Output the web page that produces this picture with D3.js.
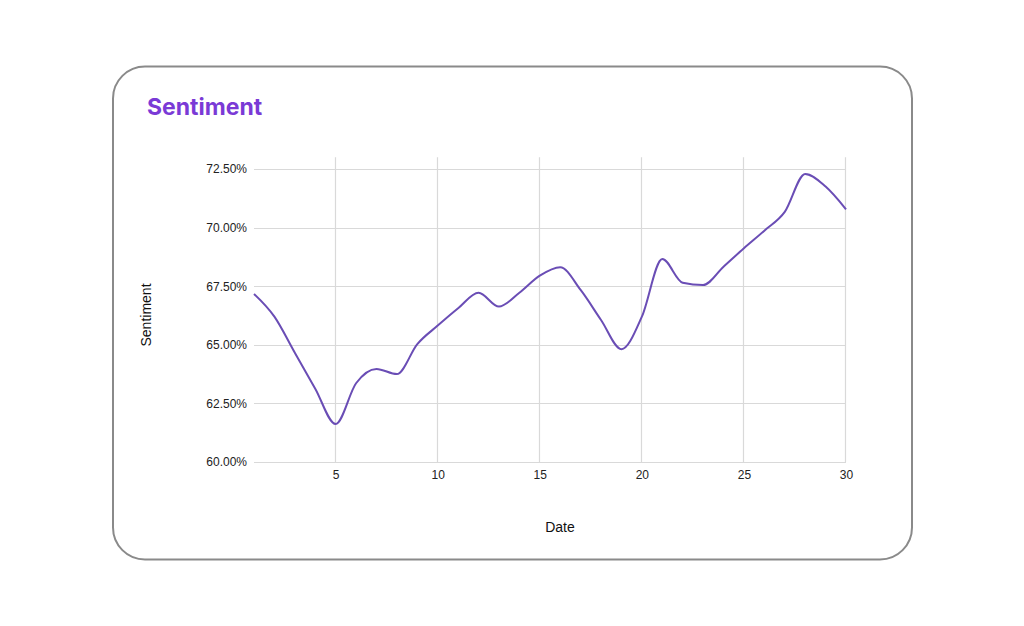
<!DOCTYPE html>
<html>
<head>
<meta charset="utf-8">
<script src="https://cdn.jsdelivr.net/npm/d3@7"></script>
<style>
  html, body { margin: 0; padding: 0; background: #fff; }
  svg { display: block; font-family: "Liberation Sans", Arial, sans-serif; }
</style>
</head>
<body>
<svg id="chart" width="1024" height="626"></svg>
<script>
const days = [1,2,3,4,5,6,7,8,9,10,11,12,13,14,15,16,17,18,19,20,21,22,23,24,25,26,27,28,29,30];
const sentiment = [67.17,66.2,64.66,63.13,61.62,63.36,63.97,63.75,65.03,65.82,66.56,67.22,66.63,67.22,67.95,68.31,67.34,66.06,64.81,66.2,68.66,67.65,67.55,68.33,69.12,69.87,70.67,72.29,71.75,70.78];
const yTicks = [60, 62.5, 65, 67.5, 70, 72.5];
const xTicks = [5, 10, 15, 20, 25, 30];
const chartTitle = "Sentiment";
const xTitle = "Date";
const yTitle = "Sentiment";

const svg = d3.select("#chart");

svg.append("rect")
  .attr("x", 113).attr("y", 66.5).attr("width", 799).attr("height", 493)
  .attr("rx", 32).attr("ry", 32)
  .attr("fill", "#fff").attr("stroke", "#8a8a8a").attr("stroke-width", 2);

svg.append("text")
  .attr("x", 147).attr("y", 115)
  .attr("fill", "#7a3ad6")
  .attr("font-size", 23).attr("font-weight", "bold")
  .attr("font-family", "Inter, 'Open Sans', sans-serif")
  .text(chartTitle);

const x = d3.scaleLinear().domain([1, 30]).range([254, 846]);
const y = d3.scaleLinear().domain([60, 73]).range([462, 157.3]);

const g = svg.append("g");

// horizontal gridlines
g.selectAll("line.hg").data(yTicks).join("line")
  .attr("class", "hg")
  .attr("x1", x(1)).attr("x2", x(30))
  .attr("y1", d => Math.round(y(d)) + 0.5).attr("y2", d => Math.round(y(d)) + 0.5)
  .attr("stroke", "#d9d9d9").attr("stroke-width", 1.2);

// vertical gridlines
g.selectAll("line.vg").data(xTicks).join("line")
  .attr("class", "vg")
  .attr("x1", d => Math.round(x(d)) - 0.5).attr("x2", d => Math.round(x(d)) - 0.5)
  .attr("y1", y(73)).attr("y2", y(60))
  .attr("stroke", "#d9d9d9").attr("stroke-width", 1.2);

// y axis labels
const yAxis = d3.axisLeft(y).tickValues(yTicks).tickSize(0).tickPadding(7)
  .tickFormat(d => d.toFixed(2) + "%");
const ya = svg.append("g").attr("transform", `translate(${x(1)},0)`).call(yAxis);
ya.select(".domain").remove();
ya.selectAll("text").attr("font-size", 12).attr("fill", "#222")
  .attr("font-family", "'Liberation Sans', Arial, sans-serif");

// x axis labels
const xAxis = d3.axisBottom(x).tickValues(xTicks).tickSize(0).tickPadding(8)
  .tickFormat(d3.format("d"));
const xa = svg.append("g").attr("transform", `translate(0,${y(60)})`).call(xAxis);
xa.select(".domain").remove();
xa.selectAll("text").attr("font-size", 12).attr("fill", "#222")
  .attr("font-family", "'Liberation Sans', Arial, sans-serif");

// line
const line = d3.line()
  .x((d, i) => x(days[i]))
  .y(d => y(d))
  .curve(d3.curveMonotoneX);
svg.append("path")
  .datum(sentiment)
  .attr("d", line)
  .attr("fill", "none")
  .attr("stroke", "#6a4db5")
  .attr("stroke-width", 2);

// axis titles
svg.append("text")
  .attr("x", 560).attr("y", 532)
  .attr("text-anchor", "middle")
  .attr("font-size", 14).attr("fill", "#111")
  .text(xTitle);

svg.append("text")
  .attr("transform", "translate(151,315) rotate(-90)")
  .attr("text-anchor", "middle")
  .attr("font-size", 14).attr("fill", "#111")
  .text(yTitle);
</script>
</body>
</html>
